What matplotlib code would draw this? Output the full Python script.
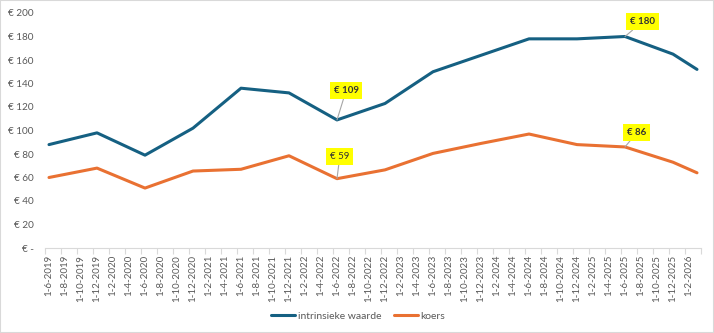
import pandas as pd
import matplotlib
matplotlib.use("Agg")
import matplotlib.pyplot as plt
from matplotlib.patches import Rectangle

plt.rcParams['font.family'] = ['Lato', 'DejaVu Sans']

# data
dates = ['2019-06-01', '2019-12-01', '2020-06-01', '2020-12-01', '2021-06-01',
         '2021-12-01', '2022-06-01', '2022-12-01', '2023-06-01', '2023-12-01',
         '2024-06-01', '2024-12-01', '2025-06-01', '2025-12-01', '2026-03-01']
intrinsiek = [88, 98, 79, 102, 136, 132, 109, 123, 150, 164, 178, 178, 180, 165, 152]
koers = [60, 68, 51, 65.5, 67, 78.5, 59, 66.5, 80.5, 89, 97, 88, 86, 73, 64]

y_ticks = [0, 20, 40, 60, 80, 100, 120, 140, 160, 180, 200]
y_labels = ['€ -', '€ 20', '€ 40', '€ 60', '€ 80', '€ 100', '€ 120', '€ 140', '€ 160', '€ 180', '€ 200']
tick_dates = pd.date_range('2019-06-01', '2026-02-01', freq='2MS')

start = pd.Timestamp('2019-06-01')


def month_idx(d):
    d = pd.Timestamp(d)
    return (d.year - start.year) * 12 + d.month - start.month


x = [month_idx(d) for d in dates]
tick_x = [month_idx(d) for d in tick_dates]
tick_lbl = [f"{d.day}-{d.month}-{d.year}" for d in tick_dates]

blue = '#156082'
orange = '#E97132'
grey = '#595959'

fig = plt.figure(figsize=(7.14, 3.33), dpi=100)
ax = fig.add_axes([45 / 714, 1 - 248 / 333, 656 / 714, 235 / 333])

ax.plot(x, intrinsiek, color=blue, lw=2.2, label='intrinsieke waarde', solid_capstyle='round')
ax.plot(x, koers, color=orange, lw=2.2, label='koers', solid_capstyle='round')

ax.set_xlim(-0.5, x[-1] + 0.5)
ax.set_ylim(0, 200)

ax.set_yticks(y_ticks)
ax.set_yticklabels(y_labels)
ax.tick_params(axis='y', length=0, pad=8, labelsize=7.2, labelcolor=grey)

ax.set_xticks(tick_x)
ax.set_xticklabels(tick_lbl, rotation=90)
ax.set_xticks([t - 0.5 for t in range(0, x[-1] + 2, 2)], minor=True)
ax.tick_params(axis='x', which='major', length=0, pad=5, labelsize=7, labelcolor=grey)
ax.tick_params(axis='x', which='minor', length=4, color='#d9d9d9', width=0.8)

for s in ['top', 'right', 'left']:
    ax.spines[s].set_visible(False)
ax.spines['bottom'].set_color('#d9d9d9')
ax.spines['bottom'].set_linewidth(0.8)

# data labels
labels = [
    (6, intrinsiek[6], '€ 109', (6.5, 21), 'bold'),
    (6, koers[6], '€ 59', (2, 16), 'normal'),
    (12, intrinsiek[12], '€ 180', (12.6, 10.6), 'bold'),
    (12, koers[12], '€ 86', (8.6, 10.4), 'bold'),
]
for i, val, txt, off, w in labels:
    ax.annotate(txt, (x[i], val), xytext=off, textcoords='offset points',
                ha='center', va='center', fontsize=7, fontweight=w, color='#333333',
                bbox=dict(boxstyle='square,pad=0.4', fc='#FFFF00', ec='none'),
                arrowprops=dict(arrowstyle='-', color='#a6a6a6', lw=0.8,
                                shrinkA=0, shrinkB=0))

fig.legend(loc='center', bbox_to_anchor=(358 / 714, 1 - 316 / 333), ncol=2,
           frameon=False, fontsize=7.5, handlelength=2.3, handletextpad=0.25,
           columnspacing=1.2, labelcolor=grey)

fig.add_artist(Rectangle((0, 0), 1, 1, transform=fig.transFigure, fill=False,
                         ec='#d9d9d9', lw=1.5))

fig.savefig('out.png', dpi=100)
